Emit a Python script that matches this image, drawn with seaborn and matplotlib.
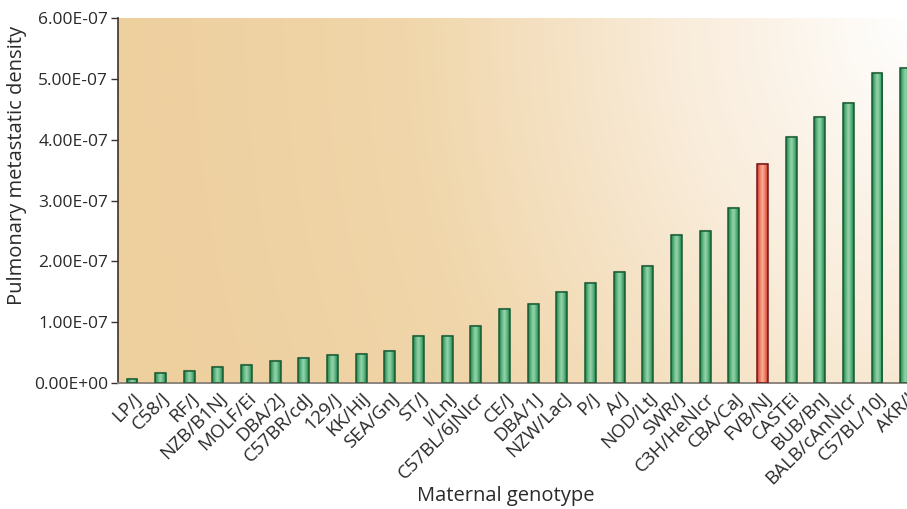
import numpy as np
import pandas as pd
import matplotlib
matplotlib.use("Agg")
import matplotlib.pyplot as plt
from matplotlib.colors import LinearSegmentedColormap
from matplotlib.ticker import FuncFormatter
import seaborn as sns

# strains, ordered by density
strains = ["LP/J", "C58/J", "RF/J", "NZB/B1NJ", "MOLF/Ei", "DBA/2J", "C57BR/cdJ",
           "129/J", "KK/HiJ", "SEA/GnJ", "ST/J", "I/LnJ", "C57BL/6JNIcr", "CE/J",
           "DBA/1J", "NZW/LacJ", "P/J", "A/J", "NOD/LtJ", "SWR/J", "C3H/HeNIcr",
           "CBA/CaJ", "FVB/NJ", "CASTEi", "BUB/BnJ", "BALB/cAnNIcr", "C57BL/10J", "AKR/J"]
density = [0.07, 0.16, 0.20, 0.26, 0.30, 0.36, 0.41, 0.46, 0.48, 0.53, 0.78, 0.78,
           0.94, 1.22, 1.30, 1.50, 1.64, 1.83, 1.92, 2.43, 2.50, 2.87, 3.60, 4.05,
           4.38, 4.60, 5.09, 5.18]
density = [d * 1e-7 for d in density]
highlight = "FVB/NJ"

df = pd.DataFrame({"strain": strains, "density": density})

sns.set_style("white")
plt.rcParams["font.family"] = ["Open Sans", "DejaVu Sans"]

fig = plt.figure(figsize=(9.07, 5.09), dpi=100)
ax = fig.add_axes([0.130, 0.2475, 0.873, 0.717])

# background gradient: tan on the left, fading to white towards the top right
nx, ny = 400, 200
gx, gy = np.meshgrid(np.linspace(0, 1, nx), np.linspace(0, 1, ny))
dist = np.sqrt(((1 - gx) * 1.0) ** 2 + ((1 - gy) * 0.35) ** 2)
t = np.clip(dist / 1.0, 0, 1) ** 0.9
bg = LinearSegmentedColormap.from_list("bg", ["#ffffff", "#f9ecda", "#f0d6aa", "#eecf9e"])
ax.imshow(t, cmap=bg, vmin=0, vmax=1, aspect="auto", origin="lower",
          extent=[0, 1, 0, 1], transform=ax.transAxes, zorder=0)

sns.barplot(data=df, x="strain", y="density", color="#4fa872",
            width=0.38, ax=ax, zorder=2)

green = LinearSegmentedColormap.from_list("g", ["#1f7a45", "#5cb680", "#9ad3ac", "#5cb680", "#1f7a45"])
red = LinearSegmentedColormap.from_list("r", ["#c43a2a", "#ee7a62", "#f6b09c", "#ee7a62", "#c43a2a"])
grad = np.linspace(0, 1, 64).reshape(1, -1)
hl_idx = strains.index(highlight)
for p in ax.patches:
    x0, y0 = p.get_x(), p.get_y()
    w, h = p.get_width(), p.get_height()
    hl = int(round(x0 + w / 2)) == hl_idx
    p.set_edgecolor("#7a1414" if hl else "#165c33")
    p.set_linewidth(1.1)
    im = ax.imshow(grad, cmap=red if hl else green, aspect="auto",
                   extent=[x0, x0 + w, y0, y0 + h], zorder=2.5)
    im.set_clip_path(p)
    # faint shadow on the top edge
    ax.plot([x0, x0 + w], [y0 + h, y0 + h], color="#8a8070", lw=1.6,
            alpha=0.5, zorder=1.9, solid_capstyle="butt")
    p.set_facecolor("none")
    p.set_zorder(3)

ax.set_xlim(-0.49, 27.14)
ax.set_ylim(0, 6e-7)
ax.set_yticks(np.arange(0, 6.01e-7, 1e-7))
ax.yaxis.set_major_formatter(FuncFormatter(lambda v, pos: f"{v:.2E}"))

for side in ["top", "right"]:
    ax.spines[side].set_visible(False)
ax.spines["left"].set_color("#3a3230")
ax.spines["left"].set_linewidth(1.2)
ax.spines["bottom"].set_color("#8c8580")
ax.spines["bottom"].set_linewidth(1.4)

ax.tick_params(axis="y", left=True, length=5, width=1, color="#3a3230",
               labelsize=12.5, labelcolor="#2a2a2a", pad=2)
ax.tick_params(axis="x", bottom=False, labelsize=13.5, labelcolor="#2a2a2a", pad=1)
plt.setp(ax.get_xticklabels(), rotation=45, ha="right", rotation_mode="anchor")

ax.set_xlabel("Maternal genotype", fontsize=14.5, color="#2a2a2a", va="center")
ax.set_ylabel("Pulmonary metastatic density", fontsize=14.5, color="#2a2a2a", va="center")
ax.xaxis.set_label_coords(0.49, -0.31)
ax.yaxis.set_label_coords(-0.128, 0.597)

fig.savefig("out.png", dpi=100)
